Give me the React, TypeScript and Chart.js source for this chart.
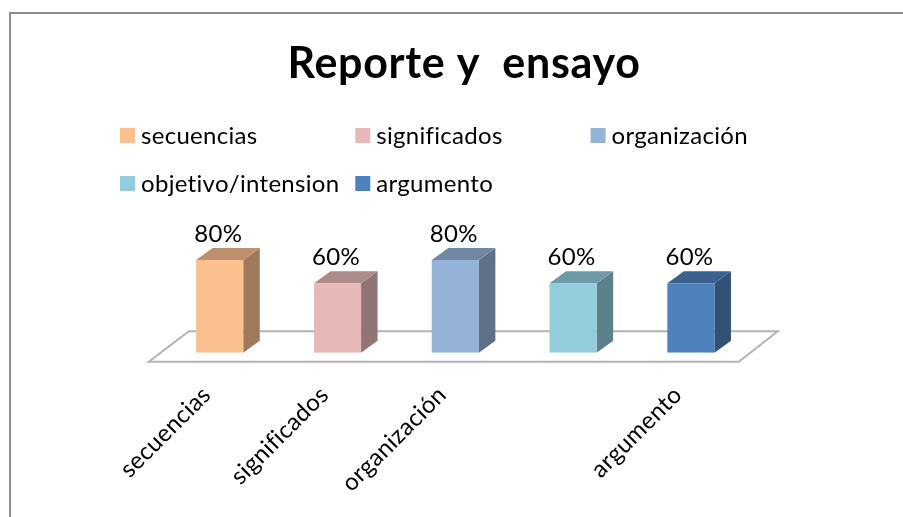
import React, { useEffect, useRef } from "react";
import { Chart, registerables } from "chart.js";

Chart.register(...registerables);

const titleText = "Reporte y  ensayo";
const categories = ["secuencias", "significados", "organización", "objetivo/intension", "argumento"];
const values = [0.8, 0.6, 0.8, 0.6, 0.6];
const colors = ["#FAC090", "#E6B9B8", "#95B3D7", "#93CDDD", "#4F81BD"];
const hiddenTicks = ["objetivo/intension"];

const FONT = "Lato, 'Noto Sans', sans-serif";
const TEXT_SIZE = 24;
const DEPTH_X = 16.5;
const DEPTH_Y = 12;

function shade(hex: string, f: number) {
  const n = parseInt(hex.slice(1), 16);
  const r = Math.round(((n >> 16) & 255) * f);
  const g = Math.round(((n >> 8) & 255) * f);
  const b = Math.round((n & 255) * f);
  return `rgb(${r},${g},${b})`;
}

const furniture = {
  id: "furniture",
  beforeDraw(chart: any) {
    chart.ctx.letterSpacing = "0.3px";
  },
  beforeDatasetsDraw(chart: any) {
    const { ctx, chartArea } = chart;
    const { left, right, bottom } = chartArea;
    ctx.save();
    // frame
    ctx.strokeStyle = "#8C8C8C";
    ctx.lineWidth = 2;
    ctx.beginPath();
    ctx.moveTo(10, 517);
    ctx.lineTo(10, 13);
    ctx.lineTo(903, 13);
    ctx.stroke();
    // floor
    ctx.strokeStyle = "#B4B4B4";
    ctx.beginPath();
    ctx.moveTo(left - 12, bottom + 9);
    ctx.lineTo(right - 11, bottom + 9);
    ctx.lineTo(right + 28, bottom - 21.5);
    ctx.lineTo(left + 28, bottom - 21.5);
    ctx.closePath();
    ctx.stroke();
    ctx.restore();

    // title
    ctx.save();
    ctx.fillStyle = "#000";
    ctx.textAlign = "center";
    ctx.textBaseline = "alphabetic";
    ctx.letterSpacing = "0.7px";
    ctx.font = `bold 43px ${FONT}`;
    ctx.fillText(titleText, 464, 78);
    ctx.restore();
    // legend
    ctx.save();
    ctx.font = `${TEXT_SIZE}px ${FONT}`;
    ctx.textAlign = "left";
    categories.forEach((c, i) => {
      const col = i % 3;
      const row = Math.floor(i / 3);
      const x = 120 + col * 235.3;
      const y = 128 + row * 48;
      ctx.fillStyle = colors[i];
      ctx.fillRect(x, y, 15, 15);
      ctx.fillStyle = "#000";
      ctx.fillText(c, x + 21, y + 16);
    });
    ctx.restore();

    // 3D faces
    const meta = chart.getDatasetMeta(0);
    meta.data.forEach((bar: any, i: number) => {
      const halfW = bar.width / 2;
      const x0 = bar.x - halfW;
      const x1 = bar.x + halfW;
      const top = bar.y;
      const base = bar.base;
      ctx.save();
      ctx.fillStyle = shade(colors[i], 0.63);
      ctx.beginPath();
      ctx.moveTo(x1, top);
      ctx.lineTo(x1 + DEPTH_X, top - DEPTH_Y);
      ctx.lineTo(x1 + DEPTH_X, base - DEPTH_Y);
      ctx.lineTo(x1, base);
      ctx.closePath();
      ctx.fill();
      ctx.fillStyle = shade(colors[i], 0.75);
      ctx.beginPath();
      ctx.moveTo(x0, top);
      ctx.lineTo(x0 + DEPTH_X, top - DEPTH_Y);
      ctx.lineTo(x1 + DEPTH_X, top - DEPTH_Y);
      ctx.lineTo(x1, top);
      ctx.closePath();
      ctx.fill();
      ctx.restore();
    });
  },
  afterDatasetsDraw(chart: any) {
    const { ctx } = chart;
    const meta = chart.getDatasetMeta(0);
    ctx.save();
    ctx.fillStyle = "#000";
    ctx.font = `${TEXT_SIZE}px ${FONT}`;
    ctx.textAlign = "center";
    ctx.textBaseline = "alphabetic";
    meta.data.forEach((bar: any, i: number) => {
      ctx.fillText(`${Math.round(values[i] * 100)}%`, bar.x - 1.5, bar.y - 18);
    });
    ctx.restore();
  },
};

export default function App() {
  const ref = useRef<HTMLCanvasElement>(null);
  useEffect(() => {
    const chart = new Chart(ref.current!, {
      type: "bar",
      data: {
        labels: categories,
        datasets: [
          {
            data: values,
            backgroundColor: colors,
            borderWidth: 0,
            barPercentage: 0.4,
            categoryPercentage: 1,
          },
        ],
      },
      options: {
        responsive: false,
        animation: false,
        layout: { padding: { left: 160.8, right: 153.2, top: 236.8, bottom: 0 } },
        plugins: { legend: { display: false }, title: { display: false }, tooltip: { enabled: false } },
        scales: {
          x: {
            grid: { display: false },
            border: { display: false },
            afterFit(scale: any) {
              scale.height = 164.3;
            },
            ticks: {
              autoSkip: false,
              minRotation: 45,
              maxRotation: 45,
              color: "#000",
              padding: 20,
              labelOffset: -13,
              font: { family: FONT, size: TEXT_SIZE },
              callback(this: any, _v: any, i: number) {
                const l = categories[i];
                return hiddenTicks.includes(l) ? "" : l;
              },
            },
          },
          y: { display: false, min: 0, max: 1 },
        },
      },
      plugins: [furniture],
    } as any);
    return () => chart.destroy();
  }, []);
  return (
    <canvas
      ref={ref}
      width={903}
      height={517}
      style={{ display: "block", position: "fixed", left: 0, top: 0, background: "#fff" }}
    />
  );
}
